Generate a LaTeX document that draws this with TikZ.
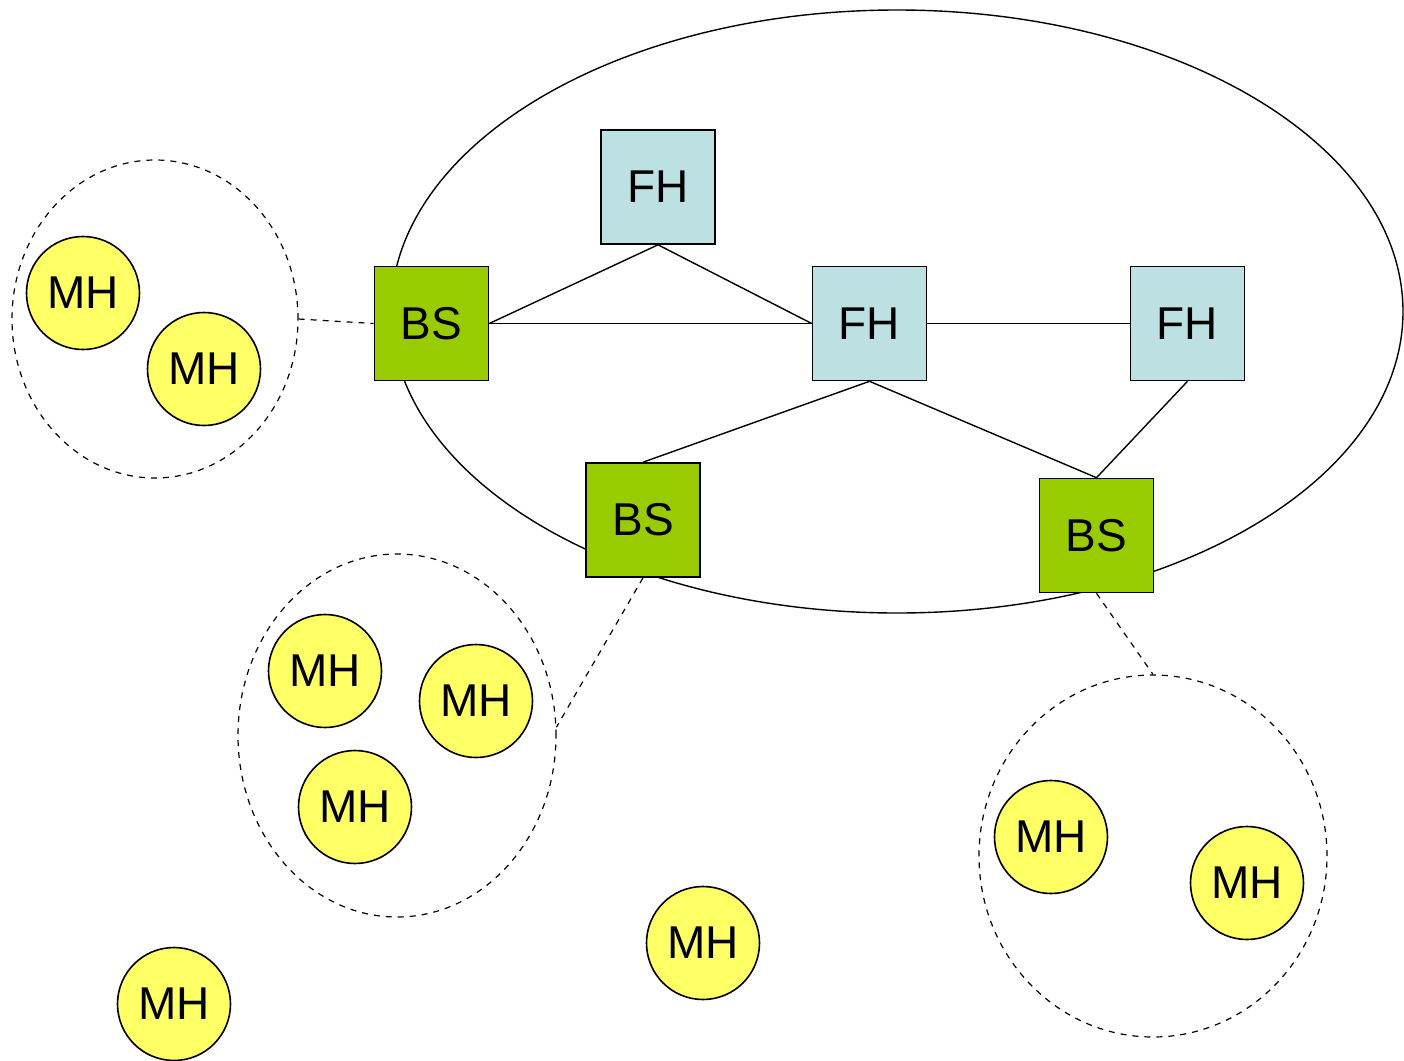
\documentclass[tikz,border=0pt]{standalone}
\usepackage{fontspec}
\setmainfont{Liberation Sans}
\usetikzlibrary{shapes.geometric}
\definecolor{fhcol}{HTML}{BDE0E3}
\definecolor{bscol}{HTML}{99CC00}
\definecolor{mhcol}{HTML}{FFFF66}
\begin{document}
\begin{tikzpicture}[x=0.5pt,y=-0.5pt,
  every node/.style={font=\fontsize{23}{27}\selectfont, inner sep=0pt},
  fhbox/.style={draw, fill=fhcol, minimum size=57pt, line width=0.8pt},
  bsbox/.style={draw, fill=bscol, minimum size=57pt, line width=0.8pt},
  mhcirc/.style={draw, circle, fill=mhcol, minimum size=56.5pt, line width=0.8pt},
  cell/.style={draw, ellipse, dashed, line width=0.6pt},
  link/.style={line width=0.7pt},
  wlink/.style={dashed, line width=0.6pt}]
\useasboundingbox (0,0) rectangle (1404,1061);
% big ellipse
\node[draw, ellipse, minimum width=506pt, minimum height=301.5pt, line width=0.7pt] (net) at (897,311.5) {};
% dashed cells
\node[cell, minimum width=143pt, minimum height=159pt] (cl) at (155,319) {};
\node[cell, minimum width=159pt, minimum height=181.5pt] (cm) at (397,735.5) {};
\node[cell, minimum width=174pt, minimum height=181pt] (cr) at (1153,856) {};
% boxes
\node[fhbox] (fht) at (658,187) {FH};
\node[bsbox] (bsl) at (431.5,323.5) {BS};
\node[fhbox] (fhm) at (869.5,323.5) {FH};
\node[fhbox] (fhr) at (1187.5,323.5) {FH};
\node[bsbox] (bsm) at (643,520) {BS};
\node[bsbox] (bsr) at (1096.5,535.5) {BS};
% wired links
\draw[link] (bsl.east) -- (fht.south) -- (fhm.west);
\draw[link] (bsl.east) -- (fhm.west);
\draw[link] (fhm.east) -- (fhr.west);
\draw[link] (fhm.south) -- (bsm.north);
\draw[link] (fhm.south) -- (bsr.north);
\draw[link] (fhr.south) -- (bsr.north);
% wireless links
\draw[wlink] (cl.east) -- (bsl.west);
\draw[wlink] (bsm.south) -- (cm.3);
\draw[wlink] (bsr.south) -- (cr.north);
% mobile hosts
\node[mhcirc] (mh1) at (83,293) {MH};
\node[mhcirc] (mh2) at (204,369) {MH};
\node[mhcirc] (mh3) at (325,671) {MH};
\node[mhcirc] (mh4) at (476,701) {MH};
\node[mhcirc] (mh5) at (355,807) {MH};
\node[mhcirc] (mh6) at (1051,837) {MH};
\node[mhcirc] (mh7) at (1247,883) {MH};
\node[mhcirc] (mh8) at (703,943) {MH};
\node[mhcirc] (mh9) at (174,1004) {MH};
\end{tikzpicture}
\end{document}
